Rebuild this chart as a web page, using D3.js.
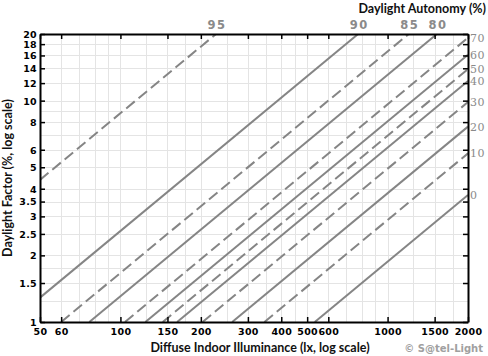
<!DOCTYPE html>
<html>
<head>
<meta charset="utf-8">
<script src="https://cdn.jsdelivr.net/npm/d3@7"></script>
<style>
  html, body { margin: 0; padding: 0; background: #fff; }
  svg { display: block; }
</style>
</head>
<body>
<script>
// ---- data ----
const daLevels = [95, 90, 85, 80, 70, 60, 50, 40, 30, 20, 10, 0];          // daylight autonomy (%)
const luxAtOnePercent = [11.4, 38.8, 60, 76.5, 104, 124, 144, 163, 203, 262, 346, 534]; // indoor lx at DF = 1 %
const xTicks = [50, 60, 100, 150, 200, 300, 400, 500, 600, 1000, 1500, 2000];
const yTicks = [1, 1.5, 2, 2.5, 3, 3.5, 4, 5, 6, 8, 10, 12, 14, 16, 18, 20];
const xGrid = [50, 60, 70, 80, 90, 100, 125, 150, 175, 200, 250, 300, 350, 400, 450, 500, 600, 700, 800, 900, 1000, 1250, 1500, 1750, 2000];
const yGrid = [1, 1.25, 1.5, 1.75, 2, 2.5, 3, 3.5, 4, 5, 6, 7, 8, 9, 10, 12, 14, 16, 18, 20];
const xDomain = [50, 2000];
const yDomain = [1, 20];

// ---- layout ----
const W = 488, H = 356;
const L = 40, R = 468, T = 34, B = 322;

const svg = d3.select("body").append("svg").attr("width", W).attr("height", H);

const x = d3.scaleLog().domain(xDomain).range([L, R]);
const y = d3.scaleLog().domain(yDomain).range([B, T]);

// grid
const grid = svg.append("g").attr("stroke", "#e4e4e4").attr("stroke-width", 1);
grid.selectAll("line.v").data(xGrid).join("line")
  .attr("x1", d => Math.round(x(d)) + 0.5).attr("x2", d => Math.round(x(d)) + 0.5)
  .attr("y1", T).attr("y2", B);
grid.selectAll("line.h").data(yGrid).join("line")
  .attr("y1", d => Math.round(y(d)) + 0.5).attr("y2", d => Math.round(y(d)) + 0.5)
  .attr("x1", L).attr("x2", R);

// DA lines
const clipId = "plotclip";
svg.append("clipPath").attr("id", clipId).append("rect")
  .attr("x", L).attr("y", T).attr("width", R - L).attr("height", B - T);

const lines = daLevels.map((da, i) => {
  const k = luxAtOnePercent[i];
  const df0 = Math.max(yDomain[0], xDomain[0] / k);
  const df1 = Math.min(yDomain[1], xDomain[1] / k);
  return { da, i, pts: [[k * df0, df0], [k * df1, df1]], endsTop: df1 >= yDomain[1] - 1e-9 };
});

const lineGen = d3.line().x(d => x(d[0])).y(d => y(d[1]));
svg.append("g").attr("clip-path", `url(#${clipId})`)
  .selectAll("path").data(lines).join("path")
  .attr("d", d => lineGen(d.pts))
  .attr("fill", "none")
  .attr("stroke", "#858585")
  .attr("stroke-width", 2)
  .attr("stroke-dasharray", d => (d.i % 2 === 0) ? "11,5" : null);

// axes
const tickFont = "DejaVu Sans, sans-serif";
const axB = d3.axisBottom(x).tickValues(xTicks).tickFormat(d3.format("d")).tickSizeInner(-5).tickSizeOuter(0).tickPadding(6);
const axT = d3.axisTop(x).tickValues(xTicks).tickFormat("").tickSizeInner(-5).tickSizeOuter(0);
const axL = d3.axisLeft(y).tickValues(yTicks).tickFormat(d => String(d)).tickSizeInner(-5).tickSizeOuter(0).tickPadding(3);
const axR = d3.axisRight(y).tickValues(yTicks).tickFormat("").tickSizeInner(-5).tickSizeOuter(0);

function style(g) {
  g.select(".domain").attr("stroke", "#000").attr("stroke-width", 2);
  g.selectAll(".tick line").attr("stroke", "#000").attr("stroke-width", 1.5);
  g.selectAll(".tick text").attr("fill", "#000").attr("font-family", tickFont)
    .attr("font-weight", "bold").attr("font-size", 9.5).attr("letter-spacing", 0.3);
}
svg.append("g").attr("transform", `translate(0,${B})`).call(axB).call(style)
  .selectAll(".tick text").attr("dy", "0.78em");
svg.append("g").attr("transform", `translate(0,${T})`).call(axT).call(style);
svg.append("g").attr("transform", `translate(${L},0)`).call(axL).call(style)
  .selectAll(".tick text").attr("dy", "0.36em");
svg.append("g").attr("transform", `translate(${R},0)`).call(axR).call(style);

// DA labels
const topLab = lines.filter(d => d.endsTop);
svg.selectAll("text.top").data(topLab).join("text")
  .attr("x", d => x(d.pts[1][0]) + 1)
  .attr("y", T - 5)
  .attr("text-anchor", "middle")
  .attr("font-family", "DejaVu Sans, sans-serif")
  .attr("font-size", 11.5)
  .attr("font-weight", "bold")
  .attr("letter-spacing", 1.5)
  .attr("fill", "#8a8a8a")
  .text(d => d.da);

const rightLab = lines.filter(d => !d.endsTop);
svg.selectAll("text.right").data(rightLab).join("text")
  .attr("x", R + 2)
  .attr("y", d => y(d.pts[1][1]))
  .attr("dy", "0.36em")
  .attr("font-family", "DejaVu Serif, serif")
  .attr("font-size", 11)
  .attr("letter-spacing", 0.5)
  .attr("fill", "#8a8a8a")
  .text(d => d.da);

// titles
const titleFont = "Lato, sans-serif";
svg.append("text").attr("x", 260).attr("y", 352).attr("text-anchor", "middle")
  .attr("font-family", titleFont).attr("font-weight", "bold").attr("font-size", 12.5)
  .attr("fill", "#111").text("Diffuse Indoor Illuminance (lx, log scale)");
svg.append("text").attr("transform", `translate(12,${(T + B) / 2}) rotate(-90)`)
  .attr("text-anchor", "middle")
  .attr("font-family", titleFont).attr("font-weight", "bold").attr("font-size", 12.5)
  .attr("fill", "#111").text("Daylight Factor (%, log scale)");
svg.append("text").attr("x", 486).attr("y", 13).attr("text-anchor", "end")
  .attr("font-family", titleFont).attr("font-weight", "bold").attr("font-size", 12.5)
  .attr("fill", "#111").text("Daylight Autonomy (%)");
svg.append("text").attr("x", 483).attr("y", 352).attr("text-anchor", "end")
  .attr("font-family", "DejaVu Sans, sans-serif").attr("font-weight", "bold").attr("font-size", 10)
  .attr("fill", "#a0a0a0").text("© S@tel-Light");
</script>
</body>
</html>
